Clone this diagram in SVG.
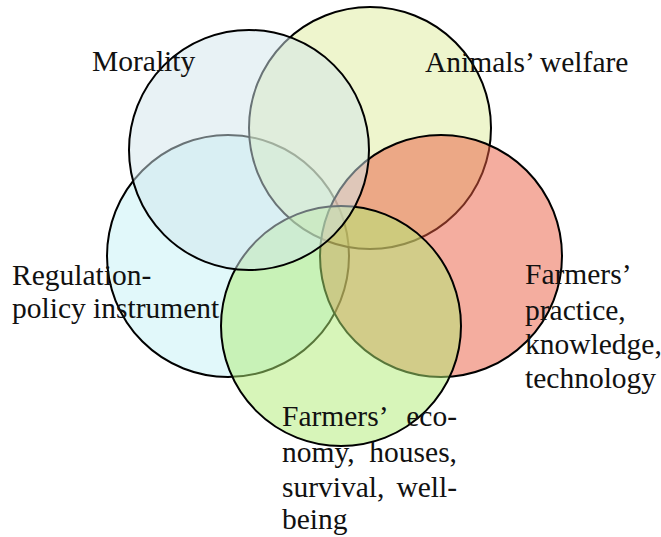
<svg xmlns="http://www.w3.org/2000/svg" width="661" height="537" viewBox="0 0 661 537">
<style>
  .c { stroke: #000; stroke-width: 2; fill-opacity: 0.5; }
  .t { font-family: "Liberation Serif", "Times New Roman", "DejaVu Serif", serif; font-size: 29.5px; fill: #111; }
</style>
<rect width="661" height="537" fill="#fff"/>
<g id="regulation">
  <circle class="c" cx="228" cy="256" r="121" fill="#c3f1f5"/>
  <text class="t" font-family="Liberation Serif, serif"><tspan x="12" y="285">Regulation-</tspan><tspan x="12" y="318">policy instrument</tspan></text>
</g>
<g id="animals-welfare">
  <circle class="c" cx="370" cy="128" r="121" fill="#ddeb9b"/>
  <text class="t" font-family="Liberation Serif, serif" x="425" y="72">Animals’ welfare</text>
</g>
<g id="farmers-practice">
  <circle class="c" cx="441" cy="256" r="121" fill="#ea5c40"/>
  <text class="t" font-family="Liberation Serif, serif"><tspan x="525" y="284">Farmers’</tspan><tspan x="525" y="320">practice,</tspan><tspan x="525" y="354">knowledge,</tspan><tspan x="525" y="388">technology</tspan></text>
</g>
<g id="farmers-economy">
  <circle class="c" cx="341" cy="326" r="120" fill="#afeb73" fill-opacity="0.45"/>
  <text class="t" font-family="Liberation Serif, serif"><tspan x="282" y="426">Farmers’</tspan><tspan x="457" y="426" text-anchor="end">eco-</tspan><tspan x="282" y="462">nomy,</tspan><tspan x="457" y="462" text-anchor="end">houses,</tspan><tspan x="282" y="497">survival,</tspan><tspan x="457" y="497" text-anchor="end">well-</tspan><tspan x="282" y="529">being</tspan></text>
</g>
<g id="morality">
  <circle class="c" cx="249" cy="150" r="120" fill="#d1e5eb"/>
  <text class="t" font-family="Liberation Serif, serif" x="92" y="71">Morality</text>
</g>
</svg>
